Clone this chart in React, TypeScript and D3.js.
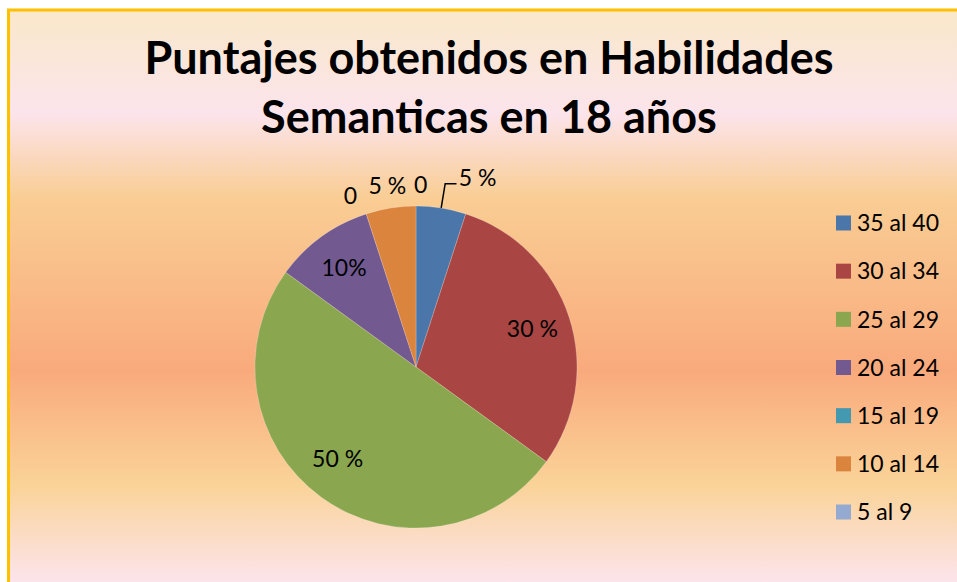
import React, { useEffect, useRef } from 'react';
import * as d3 from 'd3';

// Chart data
const categories = ['35 al 40', '30 al 34', '25 al 29', '20 al 24', '15 al 19', '10 al 14', '5 al 9'];
const percentages = [5, 30, 50, 10, 0, 5, 0];
const sliceLabels = ['5 %', '30 %', '50 %', '10%', '0', '5 %', '0'];
const sliceColors = ['#4A76A9', '#A94644', '#8AA64F', '#725A91', '#4399B0', '#DB843E', '#94AAD0'];
const titleLines = ['Puntajes obtenidos en Habilidades', 'Semanticas en 18 años'];

const W = 957;
const H = 582;

export default function App() {
  const svgRef = useRef<SVGSVGElement>(null);

  useEffect(() => {
    if (!svgRef.current) return;
    const svg = d3.select(svgRef.current);
    svg.selectAll('*').remove();

    const font = 'Lato, "Open Sans", sans-serif';

    // background gradient
    const defs = svg.append('defs');
    const bg = defs.append('linearGradient')
      .attr('id', 'bg-grad')
      .attr('gradientUnits', 'userSpaceOnUse')
      .attr('x1', 0).attr('y1', 10).attr('x2', 0).attr('y2', H);
    [
      [0, '#FAE8C9'],
      [0.18, '#FCE4EC'],
      [0.33, '#F9CD93'],
      [0.63, '#F9AA7C'],
      [0.83, '#FAD398'],
      [1, '#FCE4EC'],
    ].forEach(([o, c]) => bg.append('stop').attr('offset', o as number).attr('stop-color', c as string));

    svg.append('rect')
      .attr('x', 8.5).attr('y', 10)
      .attr('width', W + 20).attr('height', H + 20)
      .attr('fill', 'url(#bg-grad)')
      .attr('stroke', '#FFC000')
      .attr('stroke-width', 3);

    // title
    svg.append('text')
      .attr('x', 489)
      .attr('text-anchor', 'middle')
      .attr('font-family', font)
      .attr('font-weight', 'bold')
      .attr('font-size', 45)
      .attr('fill', '#000')
      .selectAll('tspan')
      .data(titleLines)
      .enter()
      .append('tspan')
      .attr('x', 489)
      .attr('y', (_d, i) => 74 + i * 59)
      .text(d => d);

    // pie
    const cx = 416;
    const cy = 367;
    const r = 161;
    const data = categories.map((c, i) => ({ cat: c, value: percentages[i], label: sliceLabels[i], color: sliceColors[i] }));
    type Row = typeof data[number];

    const pie = d3.pie<Row>().value(d => d.value).sort(null);
    const arcs = pie(data);
    const arc = d3.arc<d3.PieArcDatum<Row>>().innerRadius(0).outerRadius(r);

    const g = svg.append('g').attr('transform', `translate(${cx},${cy})`);
    g.selectAll('path')
      .data(arcs.filter(a => a.value > 0))
      .enter()
      .append('path')
      .attr('d', arc)
      .attr('fill', d => d.data.color)
      .attr('stroke', '#ffffff')
      .attr('stroke-opacity', 0.35)
      .attr('stroke-width', 0.6);

    // label placement: big slices inside, small ones outside, nudged apart
    const polar = (angle: number, rad: number) => [Math.sin(angle) * rad, -Math.cos(angle) * rad];
    const deg = Math.PI / 180;
    const labelPos = (a: d3.PieArcDatum<Row>, i: number) => {
      const mid = (a.startAngle + a.endAngle) / 2;
      if (i === 2) return polar(mid + 4.5 * deg, r * 0.75);
      if (a.data.value >= 10) return polar(mid, r * 0.76);
      if (i === 0) return polar(mid + 9 * deg, r + 38);
      if (i === 4) return polar(mid - 3 * deg, r + 22);
      if (i === 6) return polar(mid + 1.5 * deg, r + 21);
      return polar(mid, r + 22);
    };

    arcs.forEach((a, i) => {
      const [lx, ly] = labelPos(a, i);
      g.append('text')
        .attr('x', lx)
        .attr('y', ly)
        .attr('dy', '0.35em')
        .attr('text-anchor', 'middle')
        .attr('font-family', font)
        .attr('font-size', 23)
        .attr('fill', '#000')
        .text(a.data.label);
      if (i === 0) {
        // leader line
        const mid = (a.startAngle + a.endAngle) / 2;
        const [ex, ey] = polar(mid, r);
        const bendY = ly + 6;
        g.append('path')
          .attr('d', `M${ex},${ey} L${ex + 4},${bendY} L${lx - 21},${bendY}`)
          .attr('fill', 'none')
          .attr('stroke', '#000')
          .attr('stroke-width', 1.5);
      }
    });

    // legend
    const legY = d3.scalePoint<string>().domain(categories).range([223, 512]);
    const leg = svg.append('g');
    categories.forEach((c, i) => {
      const y = legY(c) || 0;
      leg.append('rect')
        .attr('x', 836).attr('y', y - 7.5)
        .attr('width', 15).attr('height', 15)
        .attr('fill', sliceColors[i]);
      leg.append('text')
        .attr('x', 857).attr('y', y)
        .attr('dy', '0.36em')
        .attr('font-family', font)
        .attr('font-size', 23)
        .attr('fill', '#000')
        .text(c);
    });
  }, []);

  return (
    <svg ref={svgRef} width={W} height={H} style={{ position: 'fixed', left: 0, top: 0, background: '#fff' }} />
  );
}
